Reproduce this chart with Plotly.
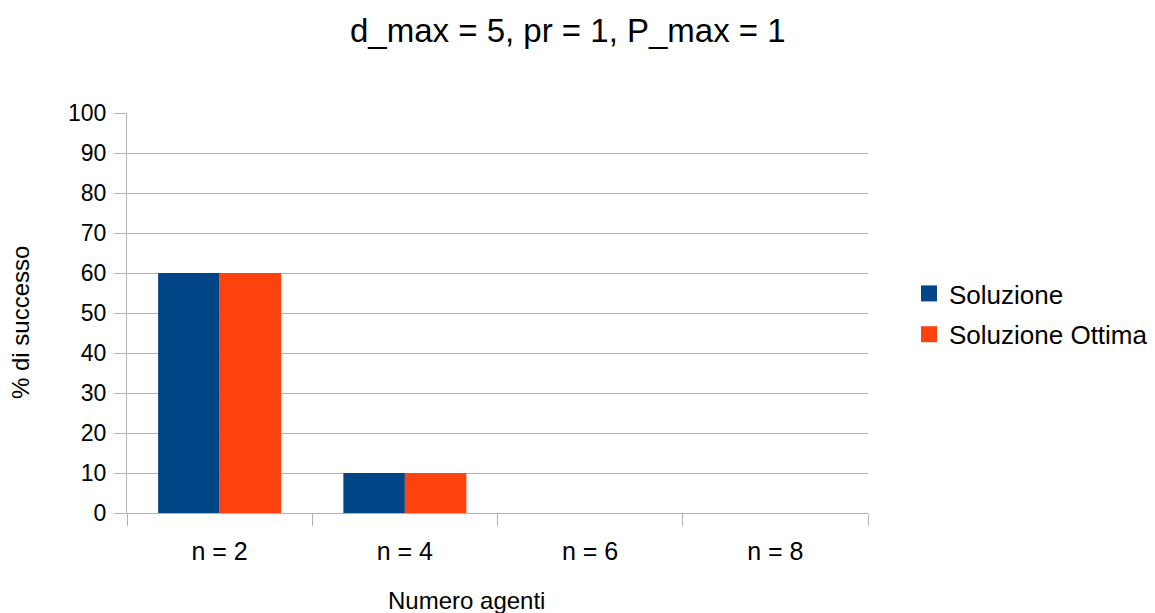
import plotly.graph_objects as go

categories = ["n = 2", "n = 4", "n = 6", "n = 8"]
soluzione = [60, 10, 0, 0]
soluzione_ottima = [60, 10, 0, 0]
y_ticks = list(range(0, 101, 10))
series_names = ["Soluzione", "Soluzione Ottima"]
series_colors = ["#004586", "#ff420e"]

W, H = 1155, 613
L, R, T, B = 127, 1155 - 868, 113, 613 - 513
pw, ph = W - L - R, H - T - B

def px_x(px):
    return (px - L) / pw

def px_y(py):
    return (H - B - py) / ph

FONT = "Liberation Sans, Arial, sans-serif"
GRID = "#b3b3b3"

fig = go.Figure()
for vals, name, col in zip([soluzione, soluzione_ottima], series_names, series_colors):
    fig.add_trace(go.Bar(x=categories, y=vals, name=name,
                         marker=dict(color=col, line=dict(width=0)),
                         showlegend=False))
# legend entries with larger square swatches
for i, (name, col) in enumerate(zip(series_names, series_colors)):
    fig.add_trace(go.Scatter(x=[None], y=[None], mode="markers", name=name,
                             marker=dict(symbol="square", size=17, color=col,
                                         line=dict(width=0)),
                             legendgroup=f"g{i}", showlegend=True))

fig.update_layout(
    width=W, height=H,
    margin=dict(l=L, r=R, t=T, b=B, pad=0, autoexpand=False),
    paper_bgcolor="white", plot_bgcolor="white",
    barmode="group", bargap=0.336, bargroupgap=0,
    font=dict(family=FONT, color="#000000", size=22),
    showlegend=True,
    legend=dict(x=px_x(909), xanchor="left", y=px_y(314), yanchor="middle",
                font=dict(size=26, family=FONT), tracegroupgap=4,
                itemwidth=30, bgcolor="rgba(0,0,0,0)", itemclick=False,
                itemdoubleclick=False),
    xaxis=dict(showgrid=False, showline=True, linecolor=GRID, linewidth=1,
               ticks="outside", tickson="boundaries", ticklen=12, tickcolor=GRID,
               tickwidth=1, tickfont=dict(size=25, family=FONT),
               ticklabelstandoff=16, fixedrange=True, automargin=False),
    yaxis=dict(range=[0, 100], tickvals=y_ticks, showgrid=True, gridcolor=GRID,
               gridwidth=1, showline=True, linecolor=GRID, linewidth=1,
               ticks="outside", ticklen=12, tickcolor=GRID, tickwidth=1,
               tickfont=dict(size=23, family=FONT), ticklabelstandoff=3,
               zeroline=False, fixedrange=True, automargin=False),
    annotations=[
        dict(text="d_max = 5, pr = 1, P_max = 1", xref="paper", yref="paper",
             x=px_x(568), y=px_y(31), xanchor="center", yanchor="middle",
             showarrow=False, font=dict(size=33, family=FONT)),
        dict(text="% di successo", xref="paper", yref="paper",
             x=px_x(20), y=px_y(323), xanchor="center", yanchor="middle",
             textangle=-90, showarrow=False, font=dict(size=24, family=FONT)),
        dict(text="Numero agenti", xref="paper", yref="paper",
             x=px_x(466), y=px_y(600), xanchor="center", yanchor="middle",
             showarrow=False, font=dict(size=24, family=FONT)),
    ],
)

fig.write_html("out.html")
